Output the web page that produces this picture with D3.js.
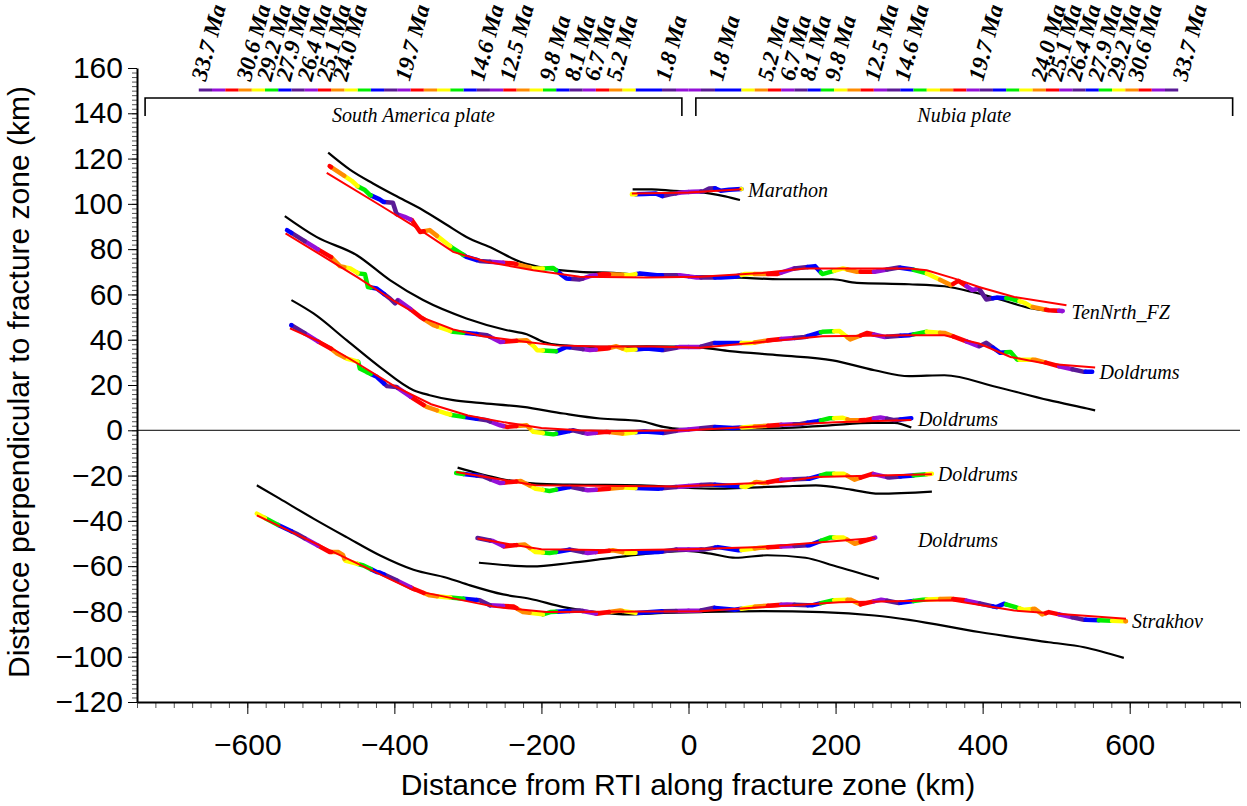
<!DOCTYPE html>
<html lang="en">
<head>
<meta charset="utf-8">
<title>Fracture zone profiles</title>
<script src="https://cdn.jsdelivr.net/npm/d3@7"></script>
<style>
  body { margin: 0; background: #fff; }
  .axis path { stroke: #000; stroke-width: 2px; }
  .axis line { stroke: #000; stroke-width: 1px; }
  .minor line { stroke: #555; }
  .axis text { font-family: "Liberation Sans", Arial, sans-serif; font-size: 30px; fill: #000; }
  .title { font-family: "Liberation Sans", Arial, sans-serif; font-size: 30px; fill: #000; }
  .tag { font-family: "Liberation Serif", "Times New Roman", serif; font-style: italic; font-size: 20px; fill: #000; }
  .age { font-family: "Liberation Serif", "Times New Roman", serif; font-style: italic; font-weight: bold; font-size: 23px; fill: #000; }
</style>
</head>
<body>
<script>
var w = 1247;
var h = 806;

// ticks
var xTickValues = [-600, -400, -200, 0, 200, 400, 600];
var yTickValues = [-120, -100, -80, -60, -40, -20, 0, 20, 40, 60, 80, 100, 120, 140, 160];

// age labels above the colour bar (Ma) and their distance from the ridge (km)
var ageLabels = [33.7, 30.6, 29.2, 27.9, 26.4, 25.1, 24.0, 19.7, 14.6, 12.5, 9.8, 8.1, 6.7, 5.2, 1.8];
var ageKm = [667, 606, 578, 552, 523, 497, 475, 390, 289, 248, 194, 160, 133, 103, 36];

// colour bands of the age scale, edges in km from the ridge
var bandEdges = [0, 17, 36, 72, 90, 108, 126, 144, 162, 180, 198, 216, 234, 252, 270, 288, 306, 324,
  342, 360, 378, 396, 414, 432, 450, 468, 486, 504, 522, 540, 558, 576, 594, 612, 630, 648, 666];
var P = "#9410d8", D = "#5a1a96", B = "#0000ff", G = "#00ee00", Y = "#ffff00", O = "#ff8c00", R = "#ff0000";
var bandColors = [P, D, B, Y, O, R, P, D, B, G, Y, O, R, P, D, B, G, Y, O, R, P, D, B, G, Y, O, R,
  P, D, B, G, Y, O, R, P, D];

// plates
var plateNames = ["South America plate", "Nubia plate"];
var plateFrom = [-739, 10];
var plateTo = [-9, 740];

// fracture zone profiles: [distance along FZ (km), distance perpendicular (km)]
var marathonBlack = [[-76,106.4],[-50,106.4],[-20,105.8],[0,105.5],[30,104.5],[50,103.3],[70,101.7]];
var marathonAge = [[-77,104.2],[-60,104.4],[-45,104.6],[-35,103.4],[-25,104.2],[-10,105],[5,105.3],[20,105.5],
  [28,106.8],[36,106.9],[44,105.8],[55,106.2],[72,106.6]];
var marathonFit = [[-77,104.6],[-30,104.8],[0,105],[40,105.8],[72,106.5]];

var tenNorthBlack = [[-490,122.6],[-460,115],[-429,109],[-395,103],[-361,97.2],[-330,91],[-302,85.4],[-266,80.3],
  [-229,74.4],[-193,71.5],[-148,70],[-102,69.5],[-57,68.5],[16,68],[70,67.4],[125,66.7],[196,66.7],[229,65.1],
  [300,64.5],[348,63.6],[386,61.1],[419,58.2],[467,53.8],[509,52.2]];
var tenNorthAge = [[-488,116.7],[-458,110.2],[-450,107.8],[-440,106.1],[-433,103.9],[-420,102],[-415,100.9],
  [-402,100.5],[-397,95.5],[-386,94.3],[-376,92.8],[-365,87.6],[-352,88.4],[-320,80.3],[-302,76.6],[-284,74.8],
  [-238,73.7],[-211,71.5],[-198,71.5],[-184,71.7],[-172,68.5],[-166,67],[-148,66.6],[-134,68.1],[-116,69],
  [-80,68.5],[-66,69.3],[-43,68.5],[-12,68.5],[11,67.5],[44,67.5],[63,67.8],[77,69],[120,69],[144,71.5],
  [172,72.5],[182,69],[210,71.5],[229,70],[253,70],[286,71.9],[305,71],[324,69.3],[357,64.1],[367,66],
  [386,61.9],[395,62.6],[405,57.8],[419,58.6],[438,58.2],[457,56.3],[467,54.5],[490,53],[509,52.7]];
var tenNorthFit = [[-492,113.7],[-420,99.5],[-365,88.5],[-320,78.8],[-275,74.4],[-211,70.7],[-148,67.8],
  [-57,67.5],[16,67.8],[100,69.5],[158,71.5],[300,71.5],[324,70.7],[362,67],[395,63.3],[443,58.9],[514,55.2]];

var dold1Black = [[-549,94.6],[-506,85.4],[-451,77.3],[-406,66.3],[-361,57.5],[-302,49.4],[-247,44.2],
  [-220,42.4],[-197,39],[-175,37.6],[-125,36.8],[-57,37.1],[16,36.5],[56,35],[125,33.1],[196,30.9],
  [253,26.5],[300,23.9],[348,24.3],[419,19.1],[490,13.3],[542,9.6],[553,8.8]];
var dold1Age = [[-546,88.4],[-506,80.3],[-486,76.5],[-474,72.5],[-460,71.5],[-449,69.3],[-440,68.9],
  [-436,63.3],[-424,62.6],[-406,58.2],[-399,56],[-395,57.5],[-380,54],[-365,50.1],[-347,46.4],[-320,43.5],
  [-302,43],[-274,42],[-256,39],[-243,39.3],[-220,39.8],[-210,37],[-206,35.4],[-179,34.9],[-166,36.8],
  [-134,35.4],[-111,36.1],[-98,37.1],[-84,35.4],[-57,36.1],[-34,35.4],[-12,36.8],[16,36.8],[35,38.6],
  [87,38.6],[110,39.8],[158,41.2],[182,43.5],[205,43.9],[220,40.1],[243,43],[267,41.2],[300,42],[324,43.5],
  [348,43],[395,37.1],[405,38.6],[424,34.2],[438,34.6],[447,31.2],[471,31.2],[504,28.3],[538,25.8],[549,25.8]];
var dold1Fit = [[-548,87],[-500,77.5],[-450,67.5],[-400,57],[-360,49.5],[-320,44.5],[-280,41.5],[-220,39],
  [-180,37.5],[-120,37],[-50,37],[16,36.5],[100,39],[182,41.5],[300,42],[348,42],[395,38.3],[438,32.4],
  [485,29.5],[553,27.7]];

var dold2Black = [[-540,57.5],[-510,51.6],[-465,39.8],[-420,28],[-374,17.7],[-352,15.5],[-320,13.3],
  [-284,12.1],[-225,10.3],[-170,7.4],[-120,5.2],[-66,4.1],[-34,1.5],[-12,0.6],[34,0.3],[56,0.7],[124,0.9],
  [192,2.2],[250,3.3],[280,3.3],[303,1.2]];
var dold2Age = [[-540,46.4],[-510,40.5],[-500,38.5],[-486,36],[-478,33.9],[-465,31.7],[-449,30.2],[-447,27.3],
  [-438,25.8],[-424,23.6],[-410,19.5],[-404,19.3],[-397,19.1],[-374,14],[-356,10.3],[-329,7.4],[-320,6.6],
  [-274,4.4],[-256,2.2],[-247,1.5],[-220,2.2],[-211,-0.7],[-184,-1.8],[-157,0],[-138,-1.5],[-111,-0.7],
  [-89,-1.5],[-60,-0.5],[-34,-1.2],[-12,0],[34,1.5],[60,1],[97,1.8],[130,2.5],[151,2.7],[175,4],[192,5.3],
  [210,5.5],[220,4.4],[240,4.5],[261,5.7],[280,4.5],[303,5.3]];
var dold2Fit = [[-542,45],[-500,39],[-450,29.5],[-400,19.5],[-350,11.5],[-300,6.5],[-250,3.5],[-200,1],
  [-150,0],[-100,-0.3],[0,0],[100,1.8],[200,3.5],[303,4.5]];

var dold3Black = [[-314,-16.5],[-256,-21.4],[-208,-23.6],[-161,-24],[-65,-24.3],[30,-25.8],[126,-24.8],
  [173,-24.3],[221,-26.2],[259,-28],[331,-27.1]];
var dold3Age = [[-316,-18.9],[-280,-20.3],[-256,-23.3],[-228,-22.4],[-208,-25.8],[-189,-26.8],[-161,-25],
  [-137,-26.5],[-89,-25.3],[-41,-25.8],[-17,-25],[30,-23.9],[78,-25],[92,-22.8],[102,-23.3],[126,-21.8],
  [164,-21.4],[188,-19.2],[211,-19.2],[226,-21.8],[250,-19.2],[273,-20.9],[307,-19.9],[331,-19.2]];
var dold3Fit = [[-316,-18.4],[-208,-24.3],[-17,-24.8],[126,-22.8],[173,-20.6],[331,-19.4]];

var dold4Black = [[-285,-58.5],[-213,-60.1],[-161,-58.6],[-113,-56.7],[-65,-54.8],[-3,-53.3],[30,-54.5],
  [64,-56.3],[107,-55.2],[159,-56.3],[197,-59.7],[259,-65.6]];
var dold4Age = [[-287,-47.6],[-266,-48.9],[-251,-51.3],[-237,-50.8],[-223,-50.4],[-208,-53.8],[-189,-54.2],
  [-161,-52.7],[-137,-54.2],[-103,-53],[-84,-54.2],[-41,-53.8],[-17,-52.7],[21,-52.7],[40,-51.6],[68,-53],
  [97,-51.9],[126,-51.3],[164,-50.8],[192,-47.4],[211,-47.4],[226,-50.1],[254,-47.4]];
var dold4Fit = [[-287,-47.8],[-240,-50.5],[-200,-52.5],[-100,-53],[0,-52.5],[100,-51.5],[180,-49.5],[254,-47.6]];

var strakhovBlack = [[-587,-24.3],[-556,-30.2],[-510,-39],[-465,-47.2],[-420,-55.2],[-374,-61.6],[-329,-65.1],
  [-297,-68.5],[-252,-72.5],[-216,-74.4],[-170,-78.1],[-125,-80.3],[-80,-81.3],[-34,-80.7],[16,-80.3],
  [101,-79.9],[182,-80.3],[253,-81.8],[300,-83.7],[395,-89.1],[490,-93.6],[538,-95.8],[592,-100.5]];
var strakhovAge = [[-587,-36.8],[-560,-41.5],[-533,-45.7],[-488,-53.8],[-476,-53.8],[-470,-55],[-467,-57.5],
  [-442,-59.7],[-424,-62.6],[-420,-62.8],[-397,-66.3],[-374,-70],[-352,-72.9],[-329,-73.7],[-284,-75.1],
  [-270,-77.3],[-256,-77.5],[-238,-77.8],[-225,-80.3],[-198,-81.3],[-188,-80.3],[-148,-79.6],[-125,-81],
  [-93,-79.6],[-71,-80.7],[-34,-79.9],[16,-79.6],[35,-78.4],[63,-79.3],[92,-77.8],[134,-76.9],[168,-77.3],
  [196,-75.1],[220,-74.8],[234,-76.9],[262,-74.8],[286,-76.3],[319,-74.8],[357,-74.4],[376,-75.1],
  [419,-78.1],[429,-76.6],[457,-79.3],[471,-78.8],[481,-81.3],[490,-80.3],[538,-83.7],[595,-84.3]];
var strakhovFit = [[-587,-37.6],[-374,-70.7],[-261,-78.1],[-193,-80.3],[16,-79.9],[205,-75.9],[357,-75.1],
  [443,-79.6],[595,-83.2]];

// fracture zone names and where their labels sit (km, km)
var fzNames = ["Marathon", "TenNrth_FZ", "Doldrums", "Doldrums", "Doldrums", "Doldrums", "Strakhov"];
var labelKm = [81, 521, 559, 312, 339, 312, 603];
var labelVal = [106.1, 52.2, 25.6, 4.9, -19.4, -48.6, -84.4];

var profiles = [
  [marathonBlack, marathonAge, marathonFit],
  [tenNorthBlack, tenNorthAge, tenNorthFit],
  [dold1Black, dold1Age, dold1Fit],
  [dold2Black, dold2Age, dold2Fit],
  [dold3Black, dold3Age, dold3Fit],
  [dold4Black, dold4Age, dold4Fit],
  [strakhovBlack, strakhovAge, strakhovFit]
];

var xScale = d3.scaleLinear().domain([-750, 750]).range([137, 1240]);
var yScale = d3.scaleLinear().domain([-120, 160]).range([702, 68]);

var svg = d3.select("body").append("svg")
  .attr("width", w)
  .attr("height", h);

// minor ticks
svg.append("g")
  .attr("class", "axis minor")
  .attr("transform", "translate(0,702)")
  .call(d3.axisBottom(xScale).tickValues(d3.range(-750, 751, 25)).tickSize(6).tickSizeOuter(0).tickFormat(""))
  .select(".domain").remove();
svg.append("g")
  .attr("class", "axis minor")
  .attr("transform", "translate(137,0)")
  .call(d3.axisLeft(yScale).tickValues(d3.range(-120, 161, 2)).tickSize(5).tickSizeOuter(0).tickFormat(""))
  .select(".domain").remove();

// major ticks + axis lines
svg.append("g")
  .attr("class", "axis")
  .attr("transform", "translate(0,702)")
  .call(d3.axisBottom(xScale).tickValues(xTickValues).tickSize(12).tickSizeOuter(0).tickPadding(20));
svg.append("g")
  .attr("class", "axis")
  .attr("transform", "translate(137,0)")
  .call(d3.axisLeft(yScale).tickValues(yTickValues).tickSize(9).tickSizeOuter(0).tickPadding(5));

// zero line
svg.append("line")
  .attr("x1", xScale(-750)).attr("x2", xScale(750))
  .attr("y1", yScale(0)).attr("y2", yScale(0))
  .attr("stroke", "#000").attr("stroke-width", 1);

// axis titles
svg.append("text").attr("class", "title")
  .attr("x", 688).attr("y", 795)
  .attr("text-anchor", "middle")
  .text("Distance from RTI along fracture zone (km)");
svg.append("text").attr("class", "title")
  .attr("transform", "translate(29,382) rotate(-90)")
  .attr("text-anchor", "middle")
  .text("Distance perpendicular to fracture zone (km)");

// colour bands on both sides of the ridge
var bands = [];
for (var i = 0; i < bandColors.length; i++) {
  bands.push({ lo: bandEdges[i], hi: bandEdges[i + 1], c: bandColors[i] });
  bands.push({ lo: -bandEdges[i + 1], hi: -bandEdges[i], c: bandColors[i] });
}

var barY = 90;
svg.append("g").selectAll("line")
  .data(bands)
  .enter()
  .append("line")
  .attr("x1", function(d) { return xScale(d.lo); })
  .attr("x2", function(d) { return xScale(d.hi); })
  .attr("y1", barY).attr("y2", barY)
  .attr("stroke", function(d) { return d.c; })
  .attr("stroke-width", 3);

// age labels
var ageData = [];
ageLabels.forEach(function(a, i) {
  ageData.push({ t: a.toFixed(1) + " Ma", km: -ageKm[i] });
  ageData.push({ t: a.toFixed(1) + " Ma", km: ageKm[i] });
});
svg.append("g").selectAll("text")
  .data(ageData)
  .enter()
  .append("text")
  .attr("class", "age")
  .attr("transform", function(d) { return "translate(" + xScale(d.km) + ",80) rotate(-75)"; })
  .attr("dy", "0.35em")
  .text(function(d) { return d.t; });

// plate brackets
plateNames.forEach(function(name, i) {
  var x0 = xScale(plateFrom[i]), x1 = xScale(plateTo[i]);
  svg.append("path")
    .attr("d", "M" + x0 + ",116V98H" + x1 + "V116")
    .attr("fill", "none").attr("stroke", "#000").attr("stroke-width", 1.6);
  svg.append("text").attr("class", "tag")
    .attr("x", (x0 + x1) / 2).attr("y", 122)
    .attr("text-anchor", "middle")
    .text(name);
});

var line = d3.line()
  .x(function(d) { return xScale(d[0]); })
  .y(function(d) { return yScale(d[1]); });
var smooth = d3.line()
  .curve(d3.curveMonotoneX)
  .x(function(d) { return xScale(d[0]); })
  .y(function(d) { return yScale(d[1]); });

// piece of a profile that falls inside [lo, hi]
function clipX(pts, lo, hi) {
  var out = [];
  for (var k = 0; k < pts.length - 1; k++) {
    var a = pts[k], b = pts[k + 1];
    var x0 = Math.max(lo, a[0]), x1 = Math.min(hi, b[0]);
    if (x0 > x1) continue;
    var t0 = (x0 - a[0]) / (b[0] - a[0]), t1 = (x1 - a[0]) / (b[0] - a[0]);
    out.push([x0, a[1] + t0 * (b[1] - a[1])]);
    out.push([x1, a[1] + t1 * (b[1] - a[1])]);
  }
  return out;
}

var plot = svg.append("g");

profiles.forEach(function(p) {
  plot.append("path")
    .attr("d", smooth(p[0]))
    .attr("fill", "none").attr("stroke", "#000").attr("stroke-width", 2.2);
});

profiles.forEach(function(p) {
  bands.forEach(function(b) {
    var seg = clipX(p[1], b.lo, b.hi);
    if (seg.length < 2) return;
    plot.append("path")
      .attr("d", line(seg))
      .attr("fill", "none").attr("stroke", b.c)
      .attr("stroke-width", 4.5).attr("stroke-linecap", "round").attr("stroke-linejoin", "round");
  });
});

profiles.forEach(function(p) {
  plot.append("path")
    .attr("d", line(p[2]))
    .attr("fill", "none").attr("stroke", "#ff0000").attr("stroke-width", 2);
});

fzNames.forEach(function(name, i) {
  svg.append("text").attr("class", "tag")
    .attr("x", xScale(labelKm[i])).attr("y", yScale(labelVal[i]))
    .attr("dy", "0.35em")
    .text(name);
});
</script>
</body>
</html>
